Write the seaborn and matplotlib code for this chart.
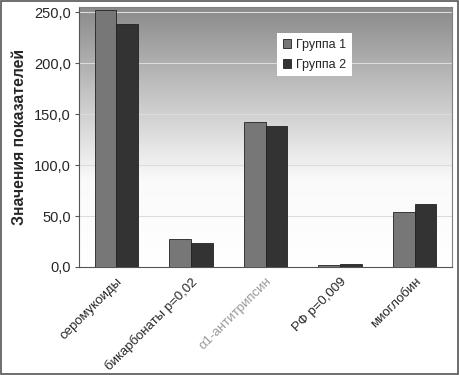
import matplotlib
matplotlib.use("Agg")
import matplotlib.pyplot as plt
import seaborn as sns
import pandas as pd
import numpy as np
from matplotlib.patches import Rectangle
from matplotlib.ticker import FuncFormatter

categories = ["серомукоиды", "бикарбонаты p=0,02", "α1-антитрипсин", "РФ p=0,009", "миоглобин"]
group1 = [252.0, 27.5, 142.0, 2.0, 54.0]
group2 = [238.0, 23.5, 138.0, 3.0, 62.0]
groups = ["Группа 1", "Группа 2"]

df = pd.DataFrame({
    "cat": categories * 2,
    "val": group1 + group2,
    "grp": [groups[0]] * len(categories) + [groups[1]] * len(categories),
})

sns.set_style("white")
plt.rcParams["font.family"] = ["Liberation Sans", "DejaVu Sans"]

fig = plt.figure(figsize=(4.59, 3.75), dpi=100)
ax = fig.add_axes([79 / 459, 108 / 375, 373 / 459, 260 / 375])

# gradient background (gray at top to white at bottom)
grad = np.linspace(0, 1, 256).reshape(-1, 1)
cmap = matplotlib.colors.LinearSegmentedColormap.from_list("bg", ["#8a8a8a", "#c4c4c4", "#fafafa", "#ffffff"])
ax.imshow(grad, aspect="auto", cmap=cmap, extent=[-0.5, 4.5, 0, 255],
          origin="upper", zorder=0)

sns.barplot(data=df, x="cat", y="val", hue="grp", order=categories,
            palette=["#777777", "#333333"], saturation=1, width=0.58,
            edgecolor="#222222", linewidth=0.6, ax=ax, zorder=3)

ax.set_xlim(-0.5, 4.5)
ax.set_ylim(0, 255)
ax.set_yticks([0, 50, 100, 150, 200, 250])
ax.yaxis.set_major_formatter(FuncFormatter(lambda v, p: f"{v:.1f}".replace(".", ",")))
ax.grid(axis="y", color="#dcdcdc", linewidth=0.8, zorder=1)
ax.set_axisbelow(True)
for s in ax.spines.values():
    s.set_color("#808080")
    s.set_linewidth(0.8)
ax.spines["left"].set_color("#555555")
ax.spines["bottom"].set_color("#555555")

ax.tick_params(axis="y", labelsize=10.5, length=3, left=True, color="#555555", pad=3)
ax.tick_params(axis="x", labelsize=9.5, length=0, pad=6)
plt.setp(ax.get_xticklabels(), rotation=45, ha="right", rotation_mode="anchor")
ax.get_xticklabels()[2].set_color("#9a9a9a")

ax.set_xlabel(None)
ax.set_ylabel("Значения показателей", fontsize=11.3, fontweight="bold", labelpad=5)

leg = ax.legend(loc="upper left", bbox_to_anchor=(198 / 373, 0.9), frameon=True,
                fancybox=False, framealpha=1, edgecolor="white", fontsize=9,
                handlelength=0.7, handleheight=0.7, handletextpad=0.4,
                borderpad=0.45, labelspacing=0.65, borderaxespad=0)
leg.get_frame().set_linewidth(0)

fig.patches.append(Rectangle((0.002, 0.003), 0.995, 0.994, transform=fig.transFigure,
                             fill=False, edgecolor="#555555", linewidth=1.2))

fig.savefig("out.png", dpi=100)
